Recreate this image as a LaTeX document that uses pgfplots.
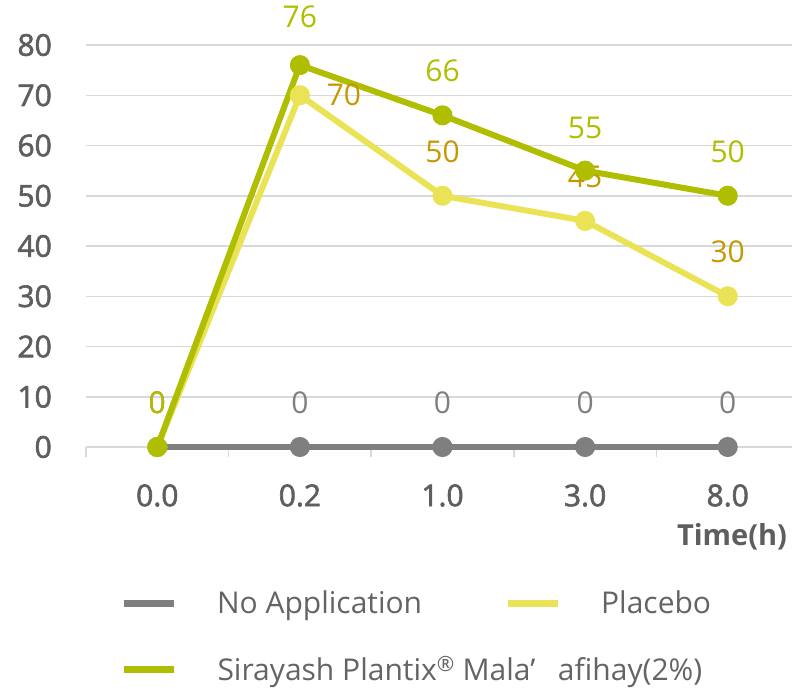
\documentclass[border=0pt]{standalone}
\usepackage{fontspec}
\setmainfont{Open Sans}
\newfontfamily\semib{Open Sans}[FakeBold=2]
\usepackage{pgfplots}
\usepackage{pgfplotstable}
\pgfplotsset{compat=1.18}
\definecolor{gridc}{HTML}{D9D9D9}
\definecolor{tickc}{HTML}{5E5E5E}
\definecolor{legc}{HTML}{646464}
\definecolor{grayl}{HTML}{7F7F7F}
\definecolor{plac}{HTML}{EAE355}
\definecolor{grn}{HTML}{AFBE00}
\definecolor{gold}{HTML}{C49800}
\newcommand{\bigf}{\fontsize{30}{36}\selectfont}

\pgfplotstableread{
x y dx dy
0 0 0 44
1 0 0 44
2 0 0 44
3 0 0 44
4 0 0 44
}\noapp
\pgfplotstableread{
x y dx dy
0 0 0 44
1 70 44 0
2 50 0 44
3 45 0 44
4 30 0 44
}\placebo
\pgfplotstableread{
x y dx dy
0 0 0 44
1 76 0 48
2 66 0 45
3 55 0 43
4 50 0 44
}\sirayash

\begin{document}
\begin{tikzpicture}[x=1pt,y=1pt]
\useasboundingbox (0,0) rectangle (792,688);
\begin{axis}[
  at={(86pt,241pt)}, anchor=south west,
  scale only axis, width=713pt, height=402pt,
  xmin=-0.5, xmax=4.5, ymin=0, ymax=80,
  clip=false,
  axis x line*=bottom, axis y line*=left,
  y axis line style={draw=none},
  x axis line style={gridc, line width=1.5pt},
  xtick={0,1,2,3,4},
  xticklabels={0.0,0.2,1.0,3.0,8.0},
  minor xtick={-0.5,0.5,1.5,2.5,3.5},
  tick align=outside,
  major tick length=0pt,
  minor tick length=10pt,
  minor x tick style={gridc, line width=1.5pt},
  ytick={0,10,...,80},
  ymajorgrids,
  grid style={gridc, line width=1.5pt},
  tick label style={font=\semib\bigf, text=tickc, inner sep=0pt},
  yticklabel style={anchor=east, xshift=-34pt},
  xticklabel style={anchor=center, yshift=-48.5pt},
  /pgf/number format/assume math mode=true,
  xlabel={\textbf{Time(h)}},
  xlabel style={at={(axis description cs:0.906,-0.2438)}, anchor=base, font=\fontsize{29}{34}\selectfont, text=tickc, inner sep=0pt},
  legend columns=2,
  legend cell align=left,
  legend style={draw=none, fill=none, at={(axis description cs:0.0477,-0.358)}, anchor=north west,
    inner sep=0pt, outer sep=0pt,
    nodes={inner sep=0pt, font=\bigf, text=legc},
    /tikz/every odd column/.append style={column sep=40pt},
    /tikz/every even column/.append style={column sep=82pt},
    row sep=41pt},
  legend image code/.code={\draw[#1, mark=none, line width=7pt] (0pt,0pt) -- (50pt,0pt);},
  lbl/.style={nodes near coords,
    visualization depends on={\thisrow{dx}\as\dx},
    visualization depends on={\thisrow{dy}\as\dy},
    nodes near coords style={font=\bigf, anchor=center, inner sep=0pt, text=#1, xshift=\dx, yshift=\dy}},
]
\addplot[grayl, line width=6pt, mark=*, mark size=7pt, mark options={draw=none, fill=grayl},
  lbl=grayl] table[x=x, y=y] {\noapp};
\addlegendentry{No Application}
\addplot[plac, line width=6pt, mark=*, mark size=7pt, mark options={draw=none, fill=plac},
  lbl=gold] table[x=x, y=y] {\placebo};
\addlegendentry{Placebo}
\addplot[grn, line width=6pt, mark=*, mark size=7pt, mark options={draw=none, fill=grn},
  lbl=grn] table[x=x, y=y] {\sirayash};
\addlegendentry{\makebox[0pt][l]{Sirayash Plantix\textsuperscript{®} Mala’\hspace{0.75em}afihay(2\%)}}
\end{axis}
\end{tikzpicture}
\end{document}
